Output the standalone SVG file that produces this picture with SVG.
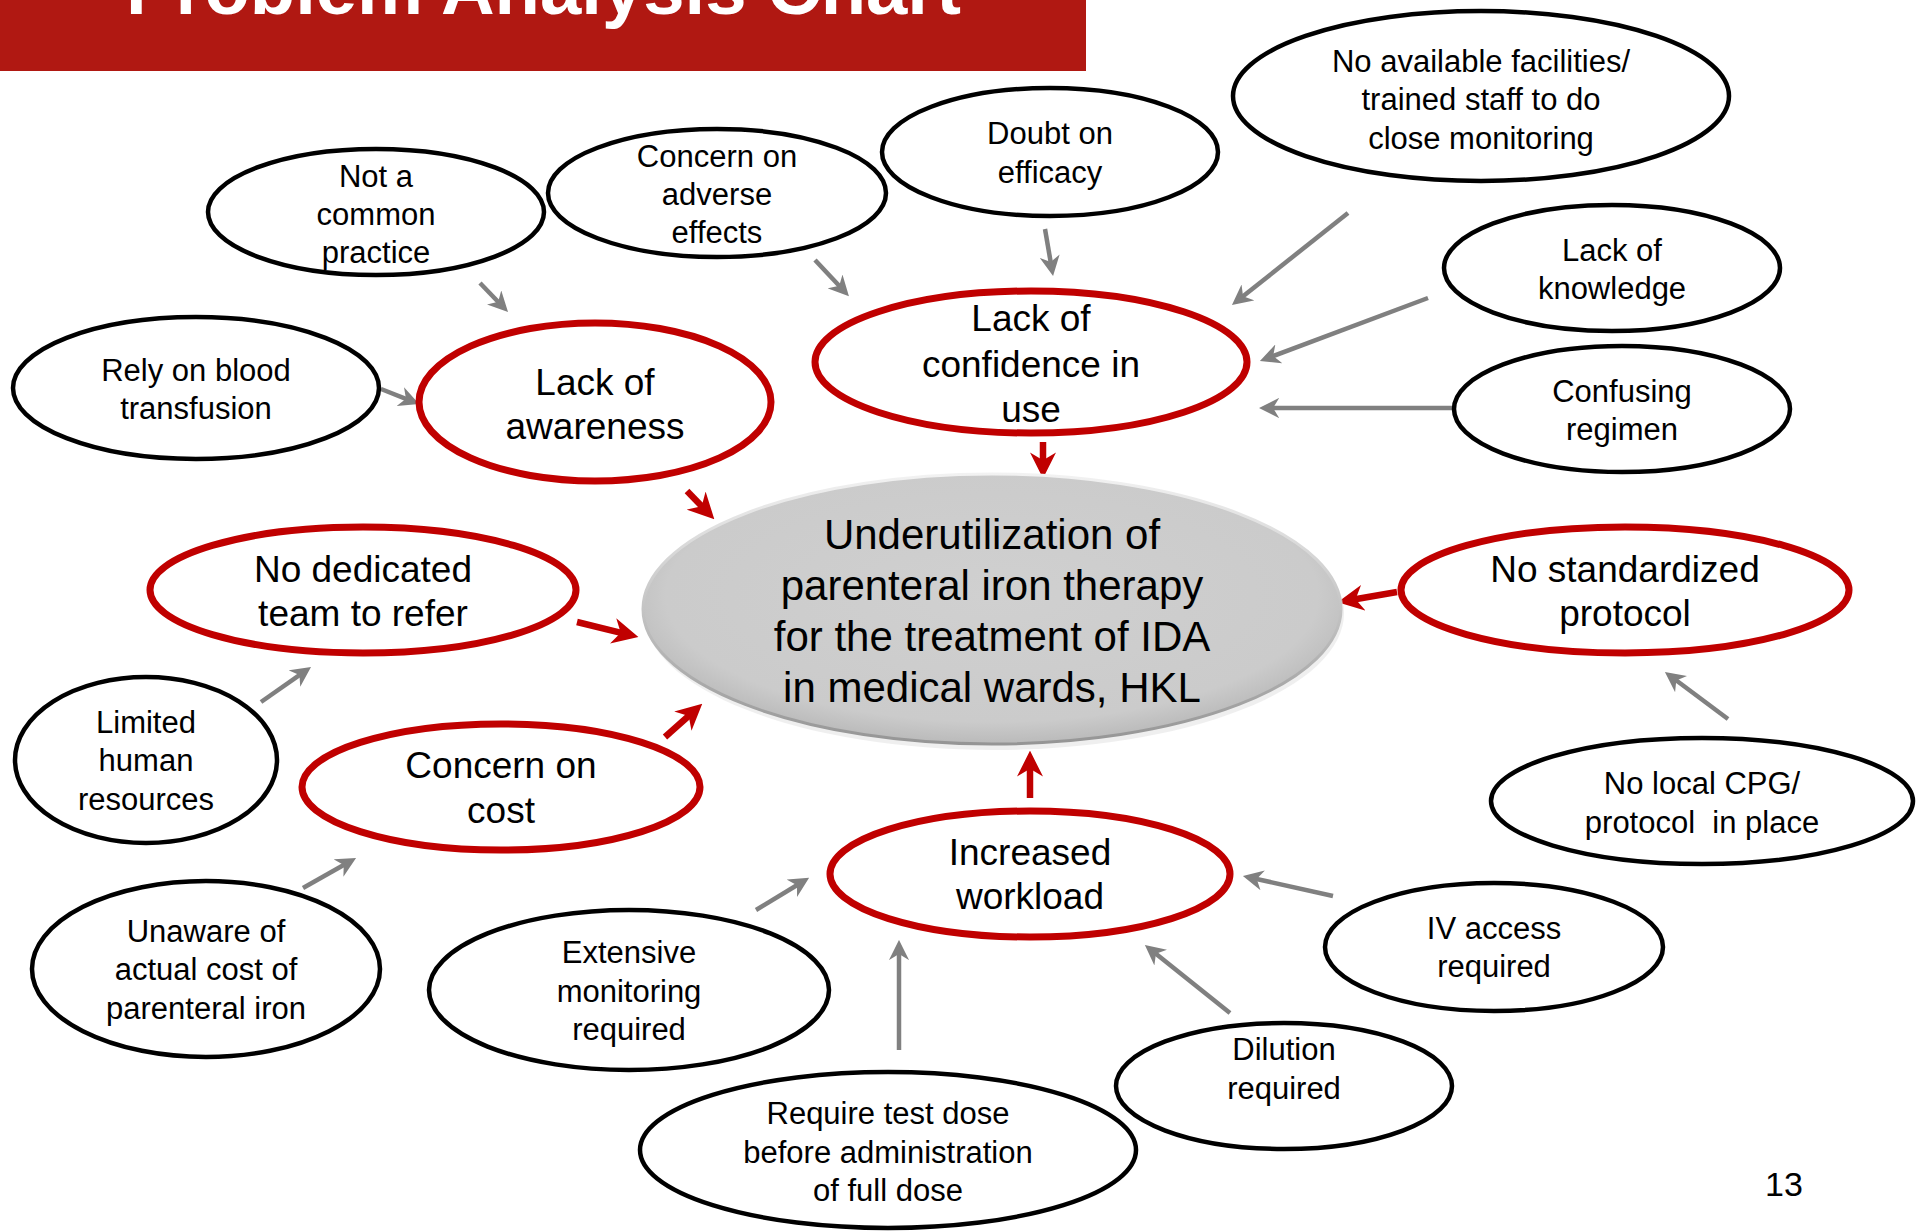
<svg xmlns="http://www.w3.org/2000/svg" width="1920" height="1231" viewBox="0 0 1920 1231">
<style>
text{font-family:"Liberation Sans",Arial,sans-serif;fill:#000;text-anchor:middle}
.b{fill:#fff;stroke:#000;stroke-width:4.5}
.r{fill:#fff;stroke:#c00000;stroke-width:7}
.tb{font-size:31px}
.tr{font-size:37px}
.tc{font-size:42px}
.g{stroke:#808080;stroke-width:4.5;fill:none;marker-end:url(#ag)}
.rd{stroke:#c00000;stroke-width:6.5;fill:none;marker-end:url(#ar)}
</style>
<defs>
<marker id="ag" viewBox="0 0 10 10" refX="6" refY="5" markerWidth="4.5" markerHeight="4.5" orient="auto" markerUnits="strokeWidth"><path d="M0,0 L10,5 L0,10 L3,5 z" fill="#808080"/></marker>
<marker id="ar" viewBox="0 0 10 10" refX="6" refY="5" markerWidth="4" markerHeight="4" orient="auto" markerUnits="strokeWidth"><path d="M0,0 L10,5 L0,10 L3,5 z" fill="#c00000"/></marker>
<radialGradient id="cg" cx="50%" cy="45%" r="55%">
<stop offset="0" stop-color="#d0d0d0"/><stop offset="0.85" stop-color="#cbcbcb"/><stop offset="1" stop-color="#bababa"/>
</radialGradient>
<linearGradient id="cs" x1="0" y1="0" x2="0" y2="1">
<stop offset="0" stop-color="#f2f2f2"/><stop offset="0.5" stop-color="#c4c4c4"/><stop offset="1" stop-color="#959595"/>
</linearGradient>
</defs>

<g id="title">
<rect x="0" y="0" width="1086" height="71" fill="#b01812"/>
<text x="126" y="14" style="font-size:74px;font-weight:bold;fill:#fff;text-anchor:start" textLength="835" lengthAdjust="spacingAndGlyphs">Problem Analysis Chart</text>
</g>

<g id="connectors">
<line class="g" x1="480" y1="283" x2="502.4" y2="306.2"/>
<line class="g" x1="381" y1="389" x2="411.6" y2="401.1"/>
<line class="g" x1="815" y1="260" x2="843.4" y2="290.3"/>
<line class="g" x1="1045" y1="229" x2="1051.7" y2="268.1"/>
<line class="g" x1="1348" y1="213" x2="1238.3" y2="300"/>
<line class="g" x1="1428" y1="298" x2="1267.5" y2="358.2"/>
<line class="g" x1="1455" y1="408" x2="1267" y2="408"/>
<line class="g" x1="261" y1="702" x2="304.4" y2="671.6"/>
<line class="g" x1="303" y1="888" x2="349" y2="862"/>
<line class="g" x1="756" y1="910" x2="802.2" y2="882"/>
<line class="g" x1="899" y1="1050" x2="899" y2="948"/>
<line class="g" x1="1230" y1="1013" x2="1151.2" y2="950"/>
<line class="g" x1="1333" y1="896" x2="1250.8" y2="877.7"/>
<line class="g" x1="1728" y1="719" x2="1671.4" y2="676.8"/>
<line class="rd" x1="687" y1="491" x2="707.1" y2="511.8"/>
<line class="rd" x1="1043" y1="442" x2="1043" y2="468"/>
<line class="rd" x1="577" y1="622" x2="628.3" y2="634.6"/>
<line class="rd" x1="665" y1="737" x2="694.5" y2="710.7"/>
<line class="rd" x1="1030" y1="798" x2="1030" y2="761"/>
<line class="rd" x1="1397" y1="592" x2="1347.9" y2="600.5"/>
</g>

<g id="center">
<ellipse cx="994" cy="613" rx="350" ry="137" fill="#e0e0e0" opacity="0.5"/>
<ellipse cx="992" cy="609" rx="349" ry="135" fill="url(#cg)" stroke="url(#cs)" stroke-width="3"/>
<text class="tc" x="992" y="549">Underutilization of</text>
<text class="tc" x="992" y="600">parenteral iron therapy</text>
<text class="tc" x="992" y="651">for the treatment of IDA</text>
<text class="tc" x="992" y="702">in medical wards, HKL</text>
</g>

<g id="lack-awareness">
<ellipse class="r" cx="595" cy="402" rx="176" ry="79"/>
<text class="tr" x="595" y="395">Lack of</text>
<text class="tr" x="595" y="439">awareness</text>
</g>
<g id="lack-confidence">
<ellipse class="r" cx="1031" cy="362" rx="216" ry="71"/>
<text class="tr" x="1031" y="331">Lack of</text>
<text class="tr" x="1031" y="377">confidence in</text>
<text class="tr" x="1031" y="422">use</text>
</g>
<g id="no-dedicated">
<ellipse class="r" cx="363" cy="590" rx="213" ry="63"/>
<text class="tr" x="363" y="582">No dedicated</text>
<text class="tr" x="363" y="626">team to refer</text>
</g>
<g id="concern-cost">
<ellipse class="r" cx="501" cy="787" rx="199" ry="63"/>
<text class="tr" x="501" y="778">Concern on</text>
<text class="tr" x="501" y="823">cost</text>
</g>
<g id="increased-workload">
<ellipse class="r" cx="1030" cy="874" rx="200" ry="63"/>
<text class="tr" x="1030" y="865">Increased</text>
<text class="tr" x="1030" y="909">workload</text>
</g>
<g id="no-standardized">
<ellipse class="r" cx="1625" cy="590" rx="224" ry="63"/>
<text class="tr" x="1625" y="582">No standardized</text>
<text class="tr" x="1625" y="626">protocol</text>
</g>

<g id="not-common">
<ellipse class="b" cx="376" cy="212" rx="168" ry="63"/>
<text class="tb" x="376" y="187">Not a</text>
<text class="tb" x="376" y="225">common</text>
<text class="tb" x="376" y="263">practice</text>
</g>
<g id="concern-adverse">
<ellipse class="b" cx="717" cy="193" rx="169" ry="64"/>
<text class="tb" x="717" y="167">Concern on</text>
<text class="tb" x="717" y="205">adverse</text>
<text class="tb" x="717" y="243">effects</text>
</g>
<g id="doubt-efficacy">
<ellipse class="b" cx="1050" cy="152" rx="168" ry="64"/>
<text class="tb" x="1050" y="144">Doubt on</text>
<text class="tb" x="1050" y="183">efficacy</text>
</g>
<g id="no-facilities">
<ellipse class="b" cx="1481" cy="96" rx="248" ry="85"/>
<text class="tb" x="1481" y="72">No available facilities/</text>
<text class="tb" x="1481" y="110">trained staff to do</text>
<text class="tb" x="1481" y="149">close monitoring</text>
</g>
<g id="lack-knowledge">
<ellipse class="b" cx="1612" cy="268" rx="168" ry="63"/>
<text class="tb" x="1612" y="261">Lack of</text>
<text class="tb" x="1612" y="299">knowledge</text>
</g>
<g id="confusing-regimen">
<ellipse class="b" cx="1622" cy="409" rx="168" ry="63"/>
<text class="tb" x="1622" y="402">Confusing</text>
<text class="tb" x="1622" y="440">regimen</text>
</g>
<g id="rely-blood">
<ellipse class="b" cx="196" cy="388" rx="183" ry="71"/>
<text class="tb" x="196" y="381">Rely on blood</text>
<text class="tb" x="196" y="419">transfusion</text>
</g>
<g id="limited-human">
<ellipse class="b" cx="146" cy="760" rx="131" ry="83"/>
<text class="tb" x="146" y="733">Limited</text>
<text class="tb" x="146" y="771">human</text>
<text class="tb" x="146" y="810">resources</text>
</g>
<g id="unaware-cost">
<ellipse class="b" cx="206" cy="969" rx="174" ry="88"/>
<text class="tb" x="206" y="942">Unaware of</text>
<text class="tb" x="206" y="980">actual cost of</text>
<text class="tb" x="206" y="1019">parenteral iron</text>
</g>
<g id="extensive-monitoring">
<ellipse class="b" cx="629" cy="990" rx="200" ry="80"/>
<text class="tb" x="629" y="963">Extensive</text>
<text class="tb" x="629" y="1002">monitoring</text>
<text class="tb" x="629" y="1040">required</text>
</g>
<g id="test-dose">
<ellipse class="b" cx="888" cy="1150" rx="248" ry="78"/>
<text class="tb" x="888" y="1124">Require test dose</text>
<text class="tb" x="888" y="1163">before administration</text>
<text class="tb" x="888" y="1201">of full dose</text>
</g>
<g id="dilution">
<ellipse class="b" cx="1284" cy="1086" rx="168" ry="63"/>
<text class="tb" x="1284" y="1060">Dilution</text>
<text class="tb" x="1284" y="1099">required</text>
</g>
<g id="iv-access">
<ellipse class="b" cx="1494" cy="947" rx="169" ry="64"/>
<text class="tb" x="1494" y="939">IV access</text>
<text class="tb" x="1494" y="977">required</text>
</g>
<g id="no-local-cpg">
<ellipse class="b" cx="1702" cy="801" rx="211" ry="63"/>
<text class="tb" x="1702" y="794">No local CPG/</text>
<text class="tb" x="1702" y="833" style="white-space:pre">protocol  in place</text>
</g>

<text x="1784" y="1196" style="font-size:34px">13</text>
</svg>
